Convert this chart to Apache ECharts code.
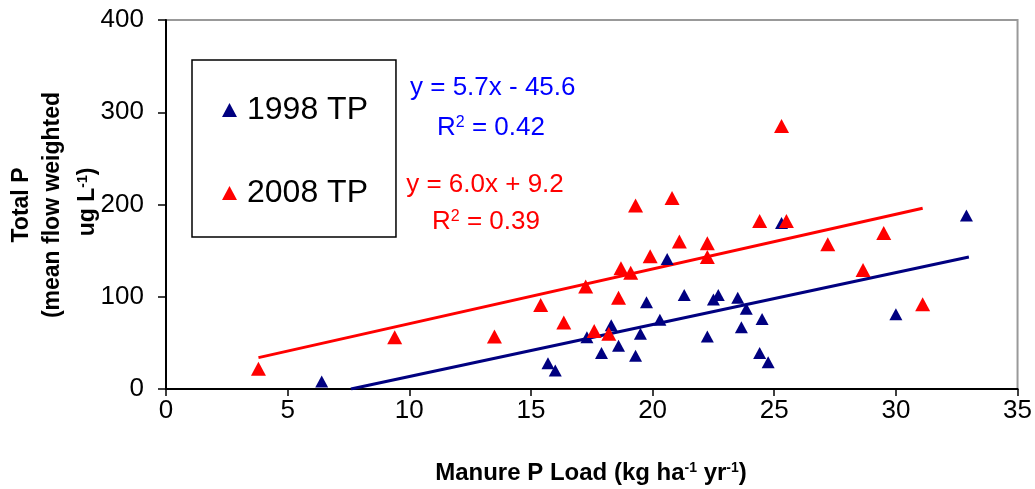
<!DOCTYPE html>
<html>
<head>
<meta charset="utf-8">
<script src="https://cdn.jsdelivr.net/npm/echarts@6/dist/echarts.min.js"></script>
<style>
  html, body { margin: 0; padding: 0; background: #fff; }
  #chart { width: 1035px; height: 489px; }
</style>
</head>
<body>
<div id="chart"></div>
<script>
// manure P load (x) and total P (y)
var load1998 = [6.4, 15.7, 16.0, 17.3, 17.9, 18.3, 18.6, 19.3, 19.5, 19.75, 20.3, 20.6, 21.3, 22.25, 22.5, 22.7, 23.5, 23.65, 23.85, 24.4, 24.5, 24.75, 25.3, 30.0, 32.9]
var tp1998 = [8, 28, 20, 56, 39, 69, 47, 36, 60, 94, 75, 141, 102, 57, 97, 102, 99, 67, 87, 39, 76, 29, 180, 81, 188]
var load2008 = [3.8, 9.4, 13.5, 15.4, 16.35, 17.25, 17.6, 18.2, 18.6, 18.7, 19.1, 19.3, 19.9, 20.8, 21.1, 22.25, 22.25, 24.4, 25.5, 25.3, 27.2, 28.65, 29.5, 31.1]
var tp2008 = [22, 56, 57, 91, 72, 111, 63, 60, 99, 131, 126, 199, 144, 207, 160, 158, 143, 182, 182, 285, 157, 129, 169, 92]

// trend line end points as drawn
var fitX1998 = [7.6, 33.0]
var fitY1998 = [0, 143]
var fitX2008 = [3.8, 31.1]
var fitY2008 = [34, 196]

var seriesNames = ['1998 TP', '2008 TP']
var eqText = ['y = 5.7x - 45.6', 'y = 6.0x + 9.2']
var r2Text = ['0.42', '0.39']

function zip(xs, ys) {
  return xs.map(function(x, i) { return [x, ys[i]] })
}

var FONT = 'Liberation Sans, Arial, sans-serif'
var chart = echarts.init(document.getElementById('chart'), null, { renderer: 'canvas' })

var supStyle = { fontSize: 16, verticalAlign: 'top', fontFamily: FONT }

var option = {
  animation: false,
  grid: {
    left: 166, right: 15, top: 20, bottom: 100,
    show: true, borderColor: '#999', borderWidth: 2, backgroundColor: '#fff'
  },
  legend: {
    orient: 'vertical',
    left: 192, top: 60,
    padding: [34, 28, 28, 30],
    itemGap: 51,
    itemWidth: 15, itemHeight: 14,
    borderColor: '#000', borderWidth: 1.5,
    data: [
      { name: seriesNames[0], icon: 'triangle' },
      { name: seriesNames[1], icon: 'triangle' }
    ],
    textStyle: { fontSize: 32, color: '#000', fontFamily: FONT, padding: [0, 0, 0, 5] }
  },
  xAxis: {
    type: 'value', min: 0, max: 35, interval: 5,
    axisLine: { lineStyle: { color: '#000', width: 2 } },
    axisTick: { length: 7, lineStyle: { color: '#000', width: 1.5 } },
    axisLabel: { fontSize: 26, color: '#000', margin: 9, fontFamily: FONT },
    splitLine: { show: false }
  },
  yAxis: {
    type: 'value', min: 0, max: 400, interval: 100,
    axisLine: { show: true, lineStyle: { color: '#000', width: 2 } },
    axisTick: { show: true, length: 8, lineStyle: { color: '#000', width: 1.5 } },
    axisLabel: { fontSize: 26, color: '#000', margin: 22, fontFamily: FONT },
    splitLine: { show: false }
  },
  series: [
    {
      name: 'fit1998', type: 'line', data: zip(fitX1998, fitY1998),
      showSymbol: false, clip: true, z: 1,
      lineStyle: { color: '#000080', width: 3 }
    },
    {
      name: 'fit2008', type: 'line', data: zip(fitX2008, fitY2008),
      showSymbol: false, clip: true, z: 1,
      lineStyle: { color: '#FF0000', width: 3 }
    },
    {
      name: seriesNames[0], type: 'scatter', data: zip(load1998, tp1998),
      symbol: 'triangle', symbolSize: [13, 12], z: 2,
      itemStyle: { color: '#000080', opacity: 1 }
    },
    {
      name: seriesNames[1], type: 'scatter', data: zip(load2008, tp2008),
      symbol: 'triangle', symbolSize: [15, 14], z: 3,
      itemStyle: { color: '#FF0000', opacity: 1 }
    }
  ],
  graphic: [
    {
      type: 'text', x: 410, y: 88,
      style: { text: eqText[0], fill: '#0000FF', font: '26px ' + FONT, align: 'left', verticalAlign: 'middle' }
    },
    {
      type: 'text', x: 491, y: 128,
      style: {
        text: '{b|R}{sup|2}{b| = ' + r2Text[0] + '}', fill: '#0000FF', align: 'center', verticalAlign: 'middle',
        rich: { b: { fontSize: 26, fontFamily: FONT }, sup: supStyle }
      }
    },
    {
      type: 'text', x: 485, y: 185,
      style: { text: eqText[1], fill: '#FF0000', font: '26px ' + FONT, align: 'center', verticalAlign: 'middle' }
    },
    {
      type: 'text', x: 486, y: 222,
      style: {
        text: '{b|R}{sup|2}{b| = ' + r2Text[1] + '}', fill: '#FF0000', align: 'center', verticalAlign: 'middle',
        rich: { b: { fontSize: 26, fontFamily: FONT }, sup: supStyle }
      }
    },
    // y axis title, three rotated lines
    {
      type: 'text', x: 22, y: 205, rotation: Math.PI / 2,
      style: { text: 'Total P', fill: '#000', font: 'bold 23px ' + FONT, align: 'center', verticalAlign: 'middle' }
    },
    {
      type: 'text', x: 53, y: 205, rotation: Math.PI / 2,
      style: { text: '(mean flow weighted', fill: '#000', font: 'bold 23px ' + FONT, align: 'center', verticalAlign: 'middle' }
    },
    {
      type: 'text', x: 88, y: 202, rotation: Math.PI / 2,
      style: {
        text: '{b|ug L}{sup|-1}{b|)}', fill: '#000', align: 'center', verticalAlign: 'middle',
        rich: { b: { fontSize: 23, fontWeight: 'bold', fontFamily: FONT }, sup: { fontSize: 14, fontWeight: 'bold', verticalAlign: 'top', fontFamily: FONT } }
      }
    },
    // x axis title
    {
      type: 'text', x: 591, y: 473,
      style: {
        text: '{b|Manure P Load (kg ha}{sup|-1}{b| yr}{sup|-1}{b|)}', fill: '#000', align: 'center', verticalAlign: 'middle',
        rich: { b: { fontSize: 24, fontWeight: 'bold', fontFamily: FONT }, sup: { fontSize: 14, fontWeight: 'bold', verticalAlign: 'top', fontFamily: FONT } }
      }
    }
  ]
}

chart.setOption(option)
</script>
</body>
</html>
